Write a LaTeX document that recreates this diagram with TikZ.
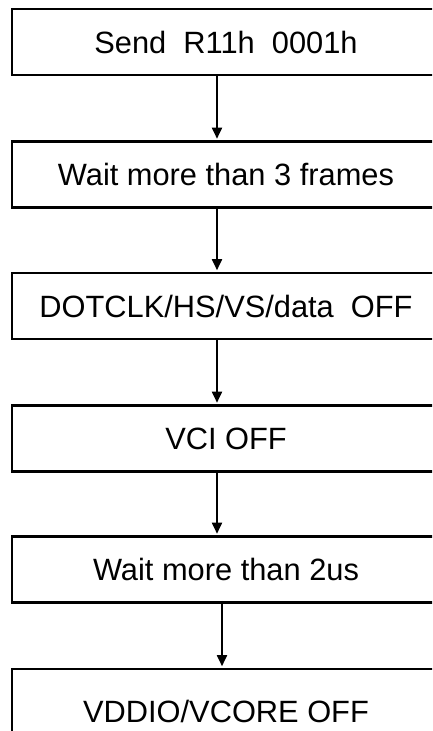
\documentclass[tikz,border=0pt]{standalone}
\usepackage{fontspec}
\setmainfont{Liberation Sans}
\usetikzlibrary{arrows.meta}
\tikzset{
  stepbox/.style={draw, line width=2.8pt, minimum width=428pt, minimum height=66pt, inner sep=0pt, font=\fontsize{30.8}{36}\selectfont},
  flow/.style={line width=1.8pt, shorten >=1.4pt, -{Triangle[width=10pt,length=11pt]}},
}
\begin{document}
\begin{tikzpicture}[x=1pt,y=-1pt]
	\useasboundingbox (0,0) rectangle (432,731);
	\clip (0,0) rectangle (432,731);

	% Steps
	\node[stepbox] (send) at (226,42) {Send\ \ R11h\ \ 0001h};
	\node[stepbox] (waitthree) at (226,174.5) {Wait more than 3 frames};
	\node[stepbox] (clkoff) at (226,306) {DOTCLK/HS/VS/data\ \ OFF};
	\node[stepbox] (vcioff) at (226,438.5) {VCI OFF};
	\node[stepbox] (waittwo) at (226,569.5) {Wait more than 2us};
	\node[stepbox, minimum height=84pt] (vddoff) at (226,711) {VDDIO/VCORE OFF};

	% Arrows
	\coordinate (ax) at (217,0);
	\coordinate (bx) at (222,0);
	\draw[flow] (send.south -| ax) -- (waitthree.north -| ax);
	\draw[flow] (waitthree.south -| ax) -- (clkoff.north -| ax);
	\draw[flow] (clkoff.south -| ax) -- (vcioff.north -| ax);
	\draw[flow] (vcioff.south -| ax) -- (waittwo.north -| ax);
	\draw[flow] (waittwo.south -| bx) ++(0,-3) -- (vddoff.north -| bx);

\end{tikzpicture}
\end{document}
